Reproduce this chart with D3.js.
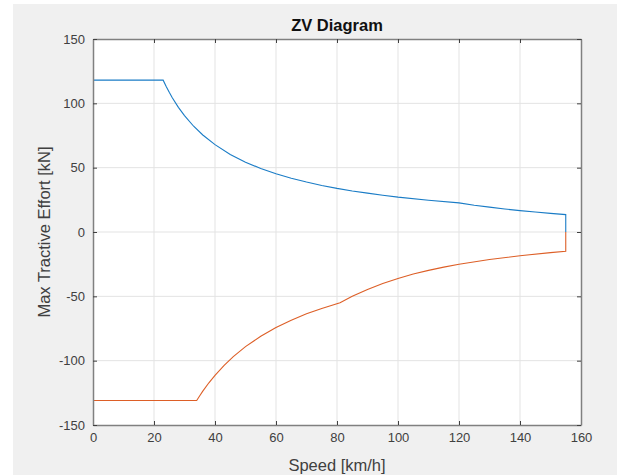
<!DOCTYPE html>
<html>
<head>
<meta charset="utf-8">
<script src="https://cdn.jsdelivr.net/npm/d3@7"></script>
<style>
html,body{margin:0;padding:0;background:#fff;}
svg{display:block;}
text{font-family:"Liberation Sans",Arial,Helvetica,sans-serif;}
</style>
</head>
<body>
<svg id="chart" width="617" height="475"></svg>
<script>
// Data
const titleText = "ZV Diagram";
const xLabelText = "Speed [km/h]";
const yLabelText = "Max Tractive Effort [kN]";
const xTicks = [0, 20, 40, 60, 80, 100, 120, 140, 160];
const yTicks = [-150, -100, -50, 0, 50, 100, 150];

const tractionSpeed = [0, 23, 24, 25, 26, 28, 30, 33, 36, 40, 45, 50, 55, 60, 65, 70, 75, 80, 85, 90, 95, 100, 110, 120, 125, 130, 135, 140, 145, 150, 155, 155];
const tractionForce = [118, 118, 113.1, 108.6, 104.4, 96.9, 90.5, 82.2, 75.4, 67.9, 60.3, 54.3, 49.3, 45.2, 41.8, 38.8, 36.2, 33.9, 31.9, 30.2, 28.6, 27.1, 24.7, 22.6, 20.8, 19.3, 17.9, 16.6, 15.5, 14.5, 13.5, 0];

const brakeSpeed = [0, 34, 35, 36, 38, 40, 43, 46, 50, 55, 60, 65, 70, 75, 81, 85, 90, 95, 100, 105, 110, 115, 120, 130, 140, 150, 155, 155];
const brakeForce = [-131, -131, -127.3, -123.7, -117.2, -111.4, -103.6, -96.8, -89.1, -81.0, -74.2, -68.5, -63.6, -59.4, -55.0, -49.9, -44.6, -40.0, -36.1, -32.7, -29.8, -27.3, -25.1, -21.4, -18.4, -16.0, -15.0, 0];

const svg = d3.select("#chart");
const W = 617, H = 475;
const L = 93, R = 581, T = 39, B = 425;

// figure background
svg.append("rect").attr("x", 13).attr("y", 4).attr("width", W - 13).attr("height", H - 4).attr("fill", "#f0f0f0");

const x = d3.scaleLinear().domain([0, 160]).range([L, R]);
const y = d3.scaleLinear().domain([-150, 150]).range([B, T]);

// axes area
svg.append("rect").attr("x", L).attr("y", T).attr("width", R - L).attr("height", B - T).attr("fill", "#ffffff");

// grid
const grid = svg.append("g");
grid.selectAll("line.vx").data(xTicks.slice(1, -1)).join("line")
  .attr("x1", d => x(d)).attr("x2", d => x(d)).attr("y1", T).attr("y2", B)
  .attr("stroke", "#e3e3e3").attr("stroke-width", 1);
grid.selectAll("line.hy").data(yTicks.slice(1, -1)).join("line")
  .attr("x1", L).attr("x2", R).attr("y1", d => y(d)).attr("y2", d => y(d))
  .attr("stroke", "#e3e3e3").attr("stroke-width", 1);

// series
const line = d3.line().x(d => x(d[0])).y(d => y(d[1]));
svg.append("path").datum(tractionSpeed.map((s, i) => [s, tractionForce[i]]))
  .attr("d", line).attr("fill", "none").attr("stroke", "#1a7cc6").attr("stroke-width", 1.1);
svg.append("path").datum(brakeSpeed.map((s, i) => [s, brakeForce[i]]))
  .attr("d", line).attr("fill", "none").attr("stroke", "#dd5f27").attr("stroke-width", 1.1);

// axes with inward ticks
const axColor = "#808080";
const tickLen = 4;
const fmt = d => String(d);
const xAxB = d3.axisBottom(x).tickValues(xTicks).tickSizeInner(-tickLen).tickSizeOuter(0).tickPadding(8).tickFormat(fmt);
const xAxT = d3.axisTop(x).tickValues(xTicks).tickSizeInner(-tickLen).tickSizeOuter(0).tickFormat("");
const yAxL = d3.axisLeft(y).tickValues(yTicks).tickSizeInner(-tickLen).tickSizeOuter(0).tickPadding(8).tickFormat(fmt);
const yAxR = d3.axisRight(y).tickValues(yTicks).tickSizeInner(-tickLen).tickSizeOuter(0).tickFormat("");

function style(g) {
  g.select(".domain").attr("stroke", axColor).attr("stroke-width", 1.5);
  g.selectAll(".tick line").attr("stroke", "#404040").attr("stroke-width", 1);
  g.selectAll(".tick text").attr("fill", "#404040").attr("font-size", "13px")
    .attr("font-family", "'Liberation Sans', Arial, Helvetica, sans-serif");
}
svg.append("g").attr("transform", `translate(0,${B})`).call(xAxB).call(style);
svg.append("g").attr("transform", `translate(0,${T})`).call(xAxT).call(style);
svg.append("g").attr("transform", `translate(${L},0)`).call(yAxL).call(style);
svg.append("g").attr("transform", `translate(${R},0)`).call(yAxR).call(style);

// title and labels
svg.append("text").attr("x", (L + R) / 2).attr("y", 31).attr("text-anchor", "middle")
  .attr("font-size", "16.5px").attr("font-weight", "bold").attr("fill", "#111").text(titleText);
svg.append("text").attr("x", (L + R) / 2).attr("y", 471).attr("text-anchor", "middle")
  .attr("font-size", "16.5px").attr("fill", "#404040").text(xLabelText);
svg.append("text").attr("transform", `translate(50,${(T + B) / 2}) rotate(-90)`).attr("text-anchor", "middle")
  .attr("font-size", "16.5px").attr("fill", "#404040").text(yLabelText);
</script>
</body>
</html>
